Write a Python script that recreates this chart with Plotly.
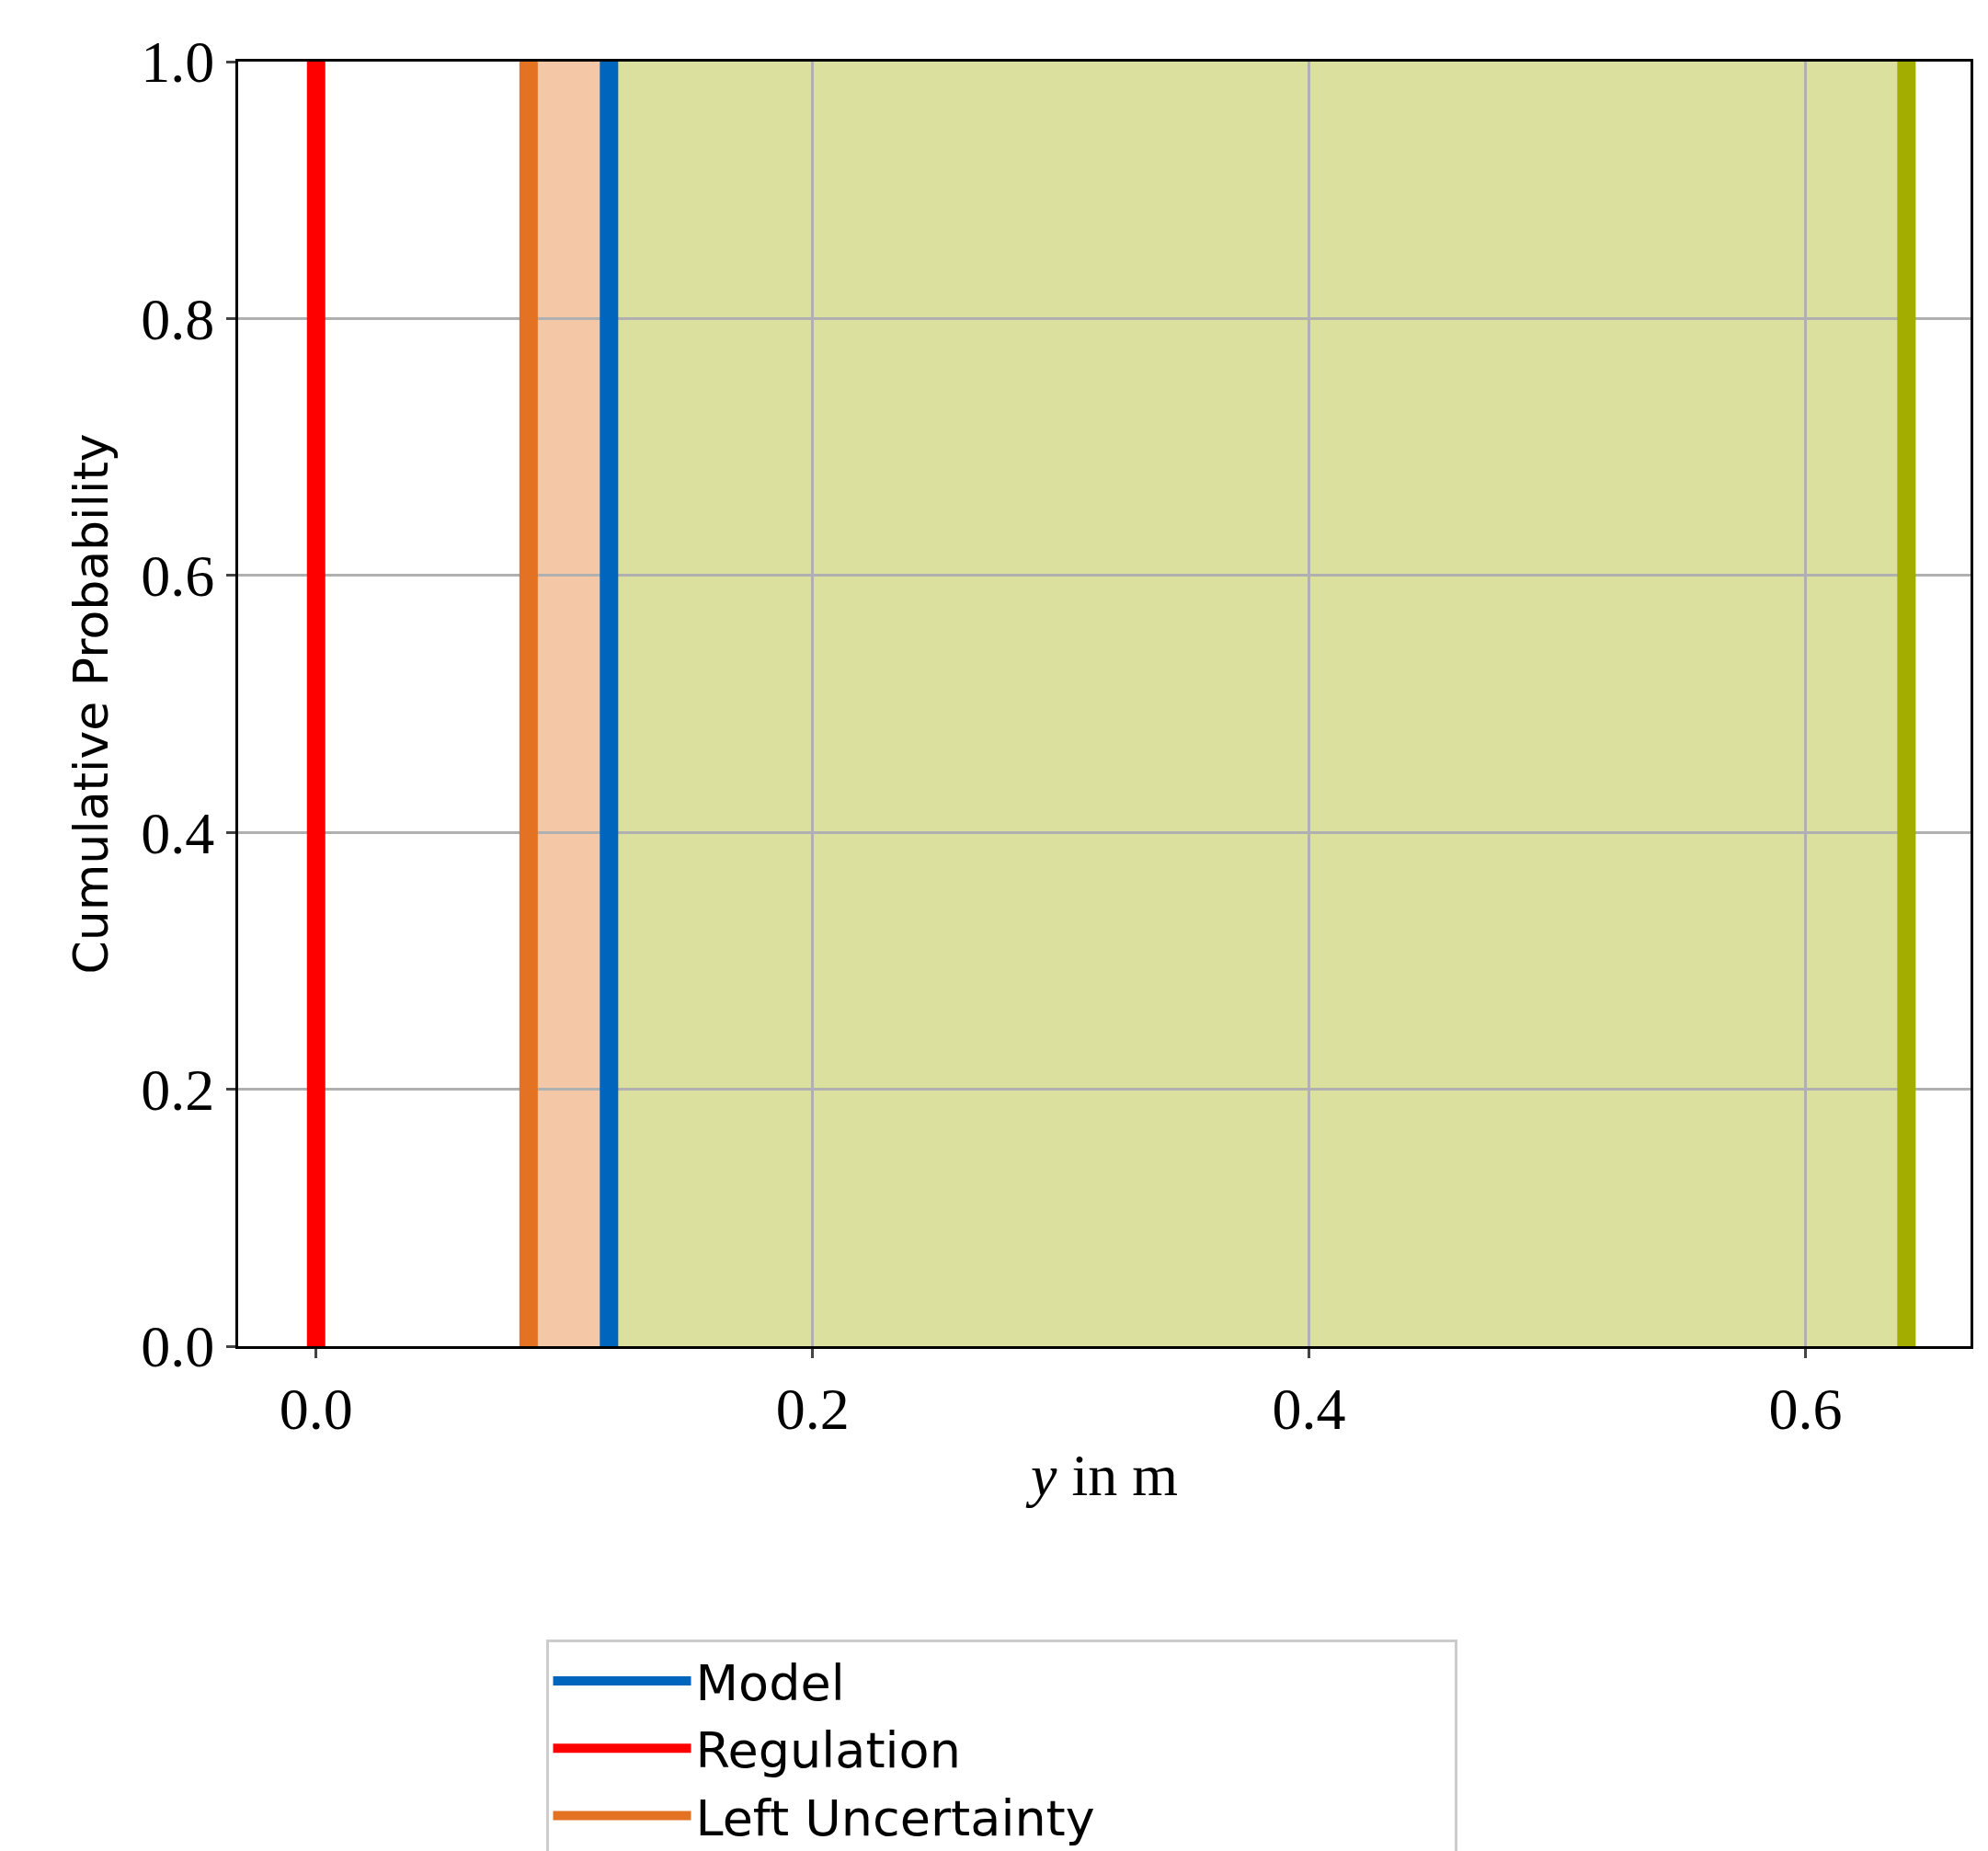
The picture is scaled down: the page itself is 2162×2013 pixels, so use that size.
import plotly.graph_objects as go

names = ["Model", "Regulation", "Left Uncertainty", "Right Uncertainty"]
xpos = [0.118, 0.0, 0.0856, 0.6407]
colors = ["#0065bd", "#ff0000", "#e37222", "#a2ad00"]
yticks = [0.0, 0.2, 0.4, 0.6, 0.8, 1.0]
xticks = [0.0, 0.2, 0.4, 0.6]

fig = go.Figure()
fig.add_shape(type="rect", x0=xpos[2], x1=xpos[0], y0=0, y1=1, fillcolor="rgba(227,114,34,0.4)", line_width=0, layer="below")
fig.add_shape(type="rect", x0=xpos[0], x1=xpos[3], y0=0, y1=1, fillcolor="rgba(162,173,0,0.38)", line_width=0, layer="below")
for n, x, c in zip(names, xpos, colors):
    fig.add_trace(go.Scatter(x=[x, x], y=[0, 1], mode="lines", name=n, line=dict(color=c, width=20)))

serif = "Liberation Serif"
fig.update_layout(
    width=2162, height=2013, plot_bgcolor="white", paper_bgcolor="white",
    margin=dict(l=251, r=27, t=59, b=557, autoexpand=False),
    xaxis=dict(range=[-0.0314, 0.6665], tickvals=xticks, ticktext=[f"{v:.1f}" for v in xticks],
               showgrid=True, gridcolor="#b0b0b0", gridwidth=3, showline=True, linecolor="black", linewidth=3,
               mirror=True, ticks="outside", ticklen=10, tickwidth=3, zeroline=False,
               tickfont=dict(family=serif, size=64, color="black"),
               title=dict(text="<i>y</i> in m", font=dict(family=serif, size=64, color="black"), standoff=15)),
    yaxis=dict(range=[0, 1], tickvals=yticks, ticktext=[f"{v:.1f}" for v in yticks],
               showgrid=True, gridcolor="#b0b0b0", gridwidth=3, showline=True, linecolor="black", linewidth=3,
               mirror=True, ticks="outside", ticklen=10, tickwidth=3, zeroline=False,
               tickfont=dict(family=serif, size=64, color="black"),
               title=dict(text="Cumulative Probability", font=dict(family="DejaVu Sans", size=52, color="black"), standoff=20)),
    legend=dict(orientation="h", x=0.5, xanchor="center", xref="container", y=0.118, yanchor="top", yref="container",
                entrywidth=820, entrywidthmode="pixels", bordercolor="#cccccc", borderwidth=3,
                font=dict(family="DejaVu Sans", size=54, color="black"), itemwidth=150),
    showlegend=True,
)
fig.write_html("out.html")
